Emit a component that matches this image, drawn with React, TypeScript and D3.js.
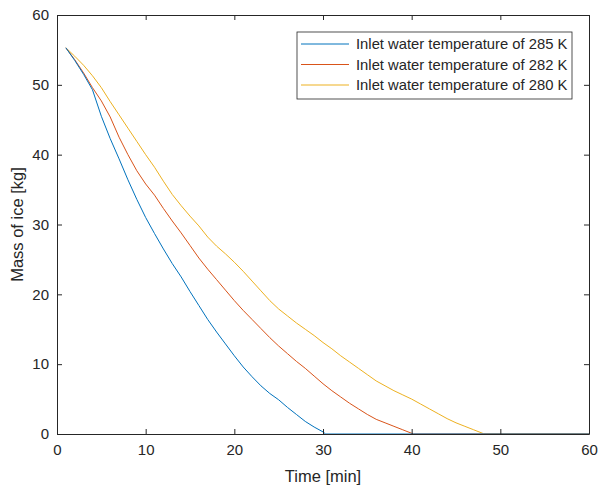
import React, { useEffect, useRef } from 'react';
import * as d3 from 'd3';

// Time [min] and mass of ice [kg] for each inlet temperature
const time285 = [1, 2, 3, 4, 5, 6, 7, 8, 9, 10, 11, 12, 13, 14, 15, 16, 17, 18, 19, 20, 21, 22, 23, 24, 25, 26, 27, 28, 29, 30, 30.3, 60];
const mass285 = [55.3, 53.5, 51.5, 49.3, 45.5, 42.3, 39.4, 36.4, 33.6, 31.0, 28.7, 26.5, 24.4, 22.5, 20.4, 18.4, 16.4, 14.6, 12.9, 11.2, 9.6, 8.2, 6.9, 5.8, 4.9, 3.8, 2.8, 1.8, 1.0, 0.3, 0, 0];

const time282 = [1, 2, 3, 4, 5, 6, 7, 8, 9, 10, 11, 12, 13, 14, 15, 16, 17, 18, 19, 20, 21, 22, 23, 24, 25, 26, 27, 28, 29, 30, 31, 32, 33, 34, 35, 36, 37, 38, 39, 40, 40.2, 60];
const mass282 = [55.3, 53.6, 51.7, 49.6, 47.7, 45.4, 42.5, 40.0, 37.7, 35.8, 34.2, 32.3, 30.5, 28.8, 27.0, 25.2, 23.6, 22.1, 20.6, 19.1, 17.7, 16.4, 15.1, 13.8, 12.6, 11.5, 10.4, 9.4, 8.3, 7.2, 6.2, 5.3, 4.4, 3.6, 2.8, 2.1, 1.6, 1.1, 0.6, 0.1, 0, 0];

const time280 = [1, 2, 3, 4, 5, 6, 7, 8, 9, 10, 11, 12, 13, 14, 15, 16, 17, 18, 19, 20, 21, 22, 23, 24, 25, 26, 27, 28, 29, 30, 31, 32, 33, 34, 35, 36, 37, 38, 39, 40, 41, 42, 43, 44, 45, 46, 47, 48, 48.1, 60];
const mass280 = [55.3, 54.1, 52.8, 51.3, 49.6, 47.6, 45.7, 43.8, 41.9, 40.0, 38.2, 36.2, 34.3, 32.7, 31.2, 29.8, 28.2, 26.9, 25.8, 24.6, 23.3, 21.9, 20.5, 19.1, 17.9, 16.9, 15.9, 15.0, 14.1, 13.1, 12.2, 11.2, 10.3, 9.4, 8.5, 7.6, 6.9, 6.2, 5.6, 5.0, 4.3, 3.6, 2.9, 2.2, 1.6, 1.1, 0.6, 0.1, 0, 0];

const seriesNames = ['Inlet water temperature of 285 K', 'Inlet water temperature of 282 K', 'Inlet water temperature of 280 K'];
const seriesColors = ['#0072BD', '#D95319', '#EDB120'];
const xTicks = [0, 10, 20, 30, 40, 50, 60];
const yTicks = [0, 10, 20, 30, 40, 50, 60];

function App() {
  const chartRef = useRef<SVGSVGElement>(null);

  useEffect(() => {
    const W = 598;
    const H = 488;
    const margin = { top: 15, right: 9, bottom: 54, left: 57 };
    const width = W - margin.left - margin.right;
    const height = H - margin.top - margin.bottom;
    const font = '"Liberation Sans", Arial, Helvetica, sans-serif';
    const axisColor = '#262626';

    const root = d3.select(chartRef.current);
    root.selectAll('*').remove();

    const svg = root.append('g').attr('transform', `translate(${margin.left},${margin.top})`);

    const x = d3.scaleLinear().domain([0, 60]).range([0, width]);
    const y = d3.scaleLinear().domain([0, 60]).range([height, 0]);

    // data lines
    const series = [
      time285.map((t, i) => [t, mass285[i]]),
      time282.map((t, i) => [t, mass282[i]]),
      time280.map((t, i) => [t, mass280[i]]),
    ];
    const line = d3
      .line<number[]>()
      .x((d) => x(d[0]))
      .y((d) => y(d[1]));

    // draw last series first so blue sits on top, like the reference
    series
      .map((s, i) => ({ s, i }))
      .reverse()
      .forEach(({ s, i }) => {
        svg
          .append('path')
          .datum(s)
          .attr('d', line)
          .attr('fill', 'none')
          .attr('stroke', seriesColors[i])
          .attr('stroke-width', 1);
      });

    // axes with inward ticks on all four sides
    const tick = 5;
    const bottom = svg.append('g').attr('transform', `translate(0,${height})`)
      .call(d3.axisBottom(x).tickValues(xTicks).tickSizeInner(-tick).tickSizeOuter(0).tickPadding(10));
    const top = svg.append('g')
      .call(d3.axisTop(x).tickValues(xTicks).tickSizeInner(-tick).tickSizeOuter(0).tickFormat(() => ''));
    const left = svg.append('g')
      .call(d3.axisLeft(y).tickValues(yTicks).tickSizeInner(-tick).tickSizeOuter(0).tickPadding(8));
    const right = svg.append('g').attr('transform', `translate(${width},0)`)
      .call(d3.axisRight(y).tickValues(yTicks).tickSizeInner(-tick).tickSizeOuter(0).tickFormat(() => ''));

    [bottom, top, left, right].forEach((g) => {
      g.select('.domain').attr('stroke', axisColor).attr('stroke-width', 1);
      g.selectAll('.tick line').attr('stroke', axisColor);
      g.selectAll('.tick text')
        .attr('fill', axisColor)
        .style('font-family', font)
        .style('font-size', '15px');
    });

    // axis labels
    svg
      .append('text')
      .attr('x', width / 2)
      .attr('y', height + 48)
      .attr('text-anchor', 'middle')
      .attr('fill', axisColor)
      .style('font-family', font)
      .style('font-size', '16.5px')
      .text('Time [min]');

    svg
      .append('text')
      .attr('transform', `translate(${-margin.left + 23},${height / 2}) rotate(-90)`)
      .attr('text-anchor', 'middle')
      .attr('fill', axisColor)
      .style('font-family', font)
      .style('font-size', '16.5px')
      .text('Mass of ice [kg]');

    // legend
    const lg = svg.append('g').attr('transform', `translate(${297 - margin.left},${32 - margin.top})`);
    lg.append('rect')
      .attr('width', 275)
      .attr('height', 67)
      .attr('fill', '#fff')
      .attr('stroke', axisColor)
      .attr('stroke-width', 0.8);
    seriesNames.forEach((name, i) => {
      const cy = 12 + i * 20.5;
      lg.append('line')
        .attr('x1', 4)
        .attr('x2', 52)
        .attr('y1', cy)
        .attr('y2', cy)
        .attr('stroke', seriesColors[i])
        .attr('stroke-width', 1);
      lg.append('text')
        .attr('x', 59)
        .attr('y', cy)
        .attr('dy', '0.35em')
        .attr('fill', axisColor)
        .style('font-family', font)
        .style('font-size', '14.8px')
        .text(name);
    });
  }, []);

  return (
    <svg
      ref={chartRef}
      width={598}
      height={488}
      style={{ position: 'absolute', left: 0, top: 0, background: '#fff' }}
    />
  );
}

export default App;
